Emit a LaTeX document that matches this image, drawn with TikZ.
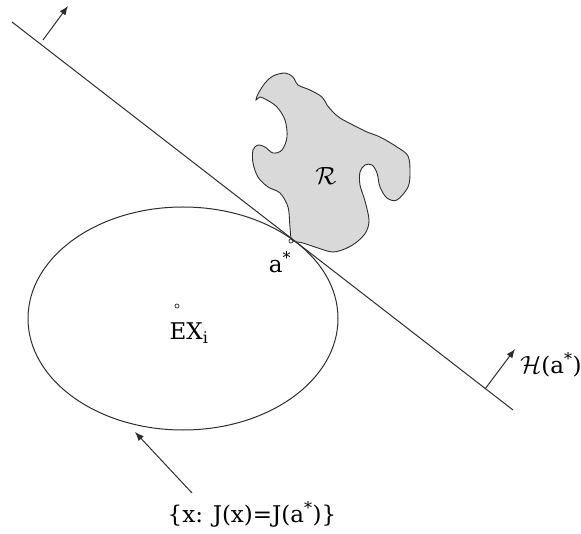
\documentclass[tikz,border=0pt]{standalone}
\usepackage{fontspec}
\setmainfont{DejaVu Serif}
\usetikzlibrary{arrows.meta}
\definecolor{ink}{HTML}{2E2E2E}
\definecolor{blob}{HTML}{D9D9D9}
\tikzset{
  thinline/.style={draw=ink, line width=1pt},
  normarrow/.style={thinline, -{Latex[length=9pt,width=7pt]}},
  dot/.style={circle, draw=ink, line width=0.7pt, inner sep=0pt, minimum size=4pt},
  lbl/.style={inner sep=0pt, text=black, font=\fontsize{23}{26}\selectfont},
}
\begin{document}
\begin{tikzpicture}[x=1pt,y=-1pt]
\useasboundingbox (0,0) rectangle (581,534);
% region R
\filldraw[fill=blob, draw=ink, line width=0.9pt]
  plot[smooth cycle, tension=0.55] coordinates {
  (258,94) (265,83) (273,76) (285,73) (293,77) (298,85) (310,90) (322,97)
  (327,105) (333,112) (340,118) (353,125) (367,132) (380,137) (397,147)
  (408,156) (410,172) (408,187) (397,200) (387,198) (380,187) (377,173)
  (372,165) (365,165) (360,172) (360,185) (365,201) (369,220) (366,232)
  (358,241) (347,248) (333,252) (318,248) (303,243) (292,240) (290,227)
  (288,207) (280,193) (268,187) (258,177) (253,163) (253,150) (258,145)
  (265,147) (273,153) (282,150) (287,137) (285,120) (277,107) (267,100)
  (260,97) (256,100)};
\node[lbl, font=\fontsize{27}{30}\selectfont] (R) at (326,176) {$\mathcal{R}$};
% ellipse
\draw[thinline] (183,318.5) ellipse [x radius=155, y radius=111.5];
% tangent line
\coordinate (L1) at (12,22);
\coordinate (L2) at (513,410);
\draw[thinline] (L1) -- (L2);
% normal arrows
\coordinate (n1) at (43,40);
\coordinate (n1t) at (68,6);
\draw[normarrow] (n1) -- (n1t);
\coordinate (n2) at (485,389);
\coordinate (n2t) at (515,349);
\draw[normarrow] (n2) -- (n2t);
% points
\node[dot] (astar) at (291,241) {};
\node[dot] (EXd) at (177,306) {};
\node[lbl] (alab) at (280,262) {a\textsuperscript{*}};
\node[lbl] (EX) at (189,333) {EX\textsubscript{i}};
\node[lbl, anchor=west] (H) at (520,365) {$\mathcal{H}$(a\textsuperscript{*})};
% level set label
\node[lbl] (J) at (252,514) {\{x: J(x)=J(a\textsuperscript{*})\}};
\coordinate (Jt) at (135,432);
\draw[normarrow] (192,493) -- (Jt);
\end{tikzpicture}
\end{document}
